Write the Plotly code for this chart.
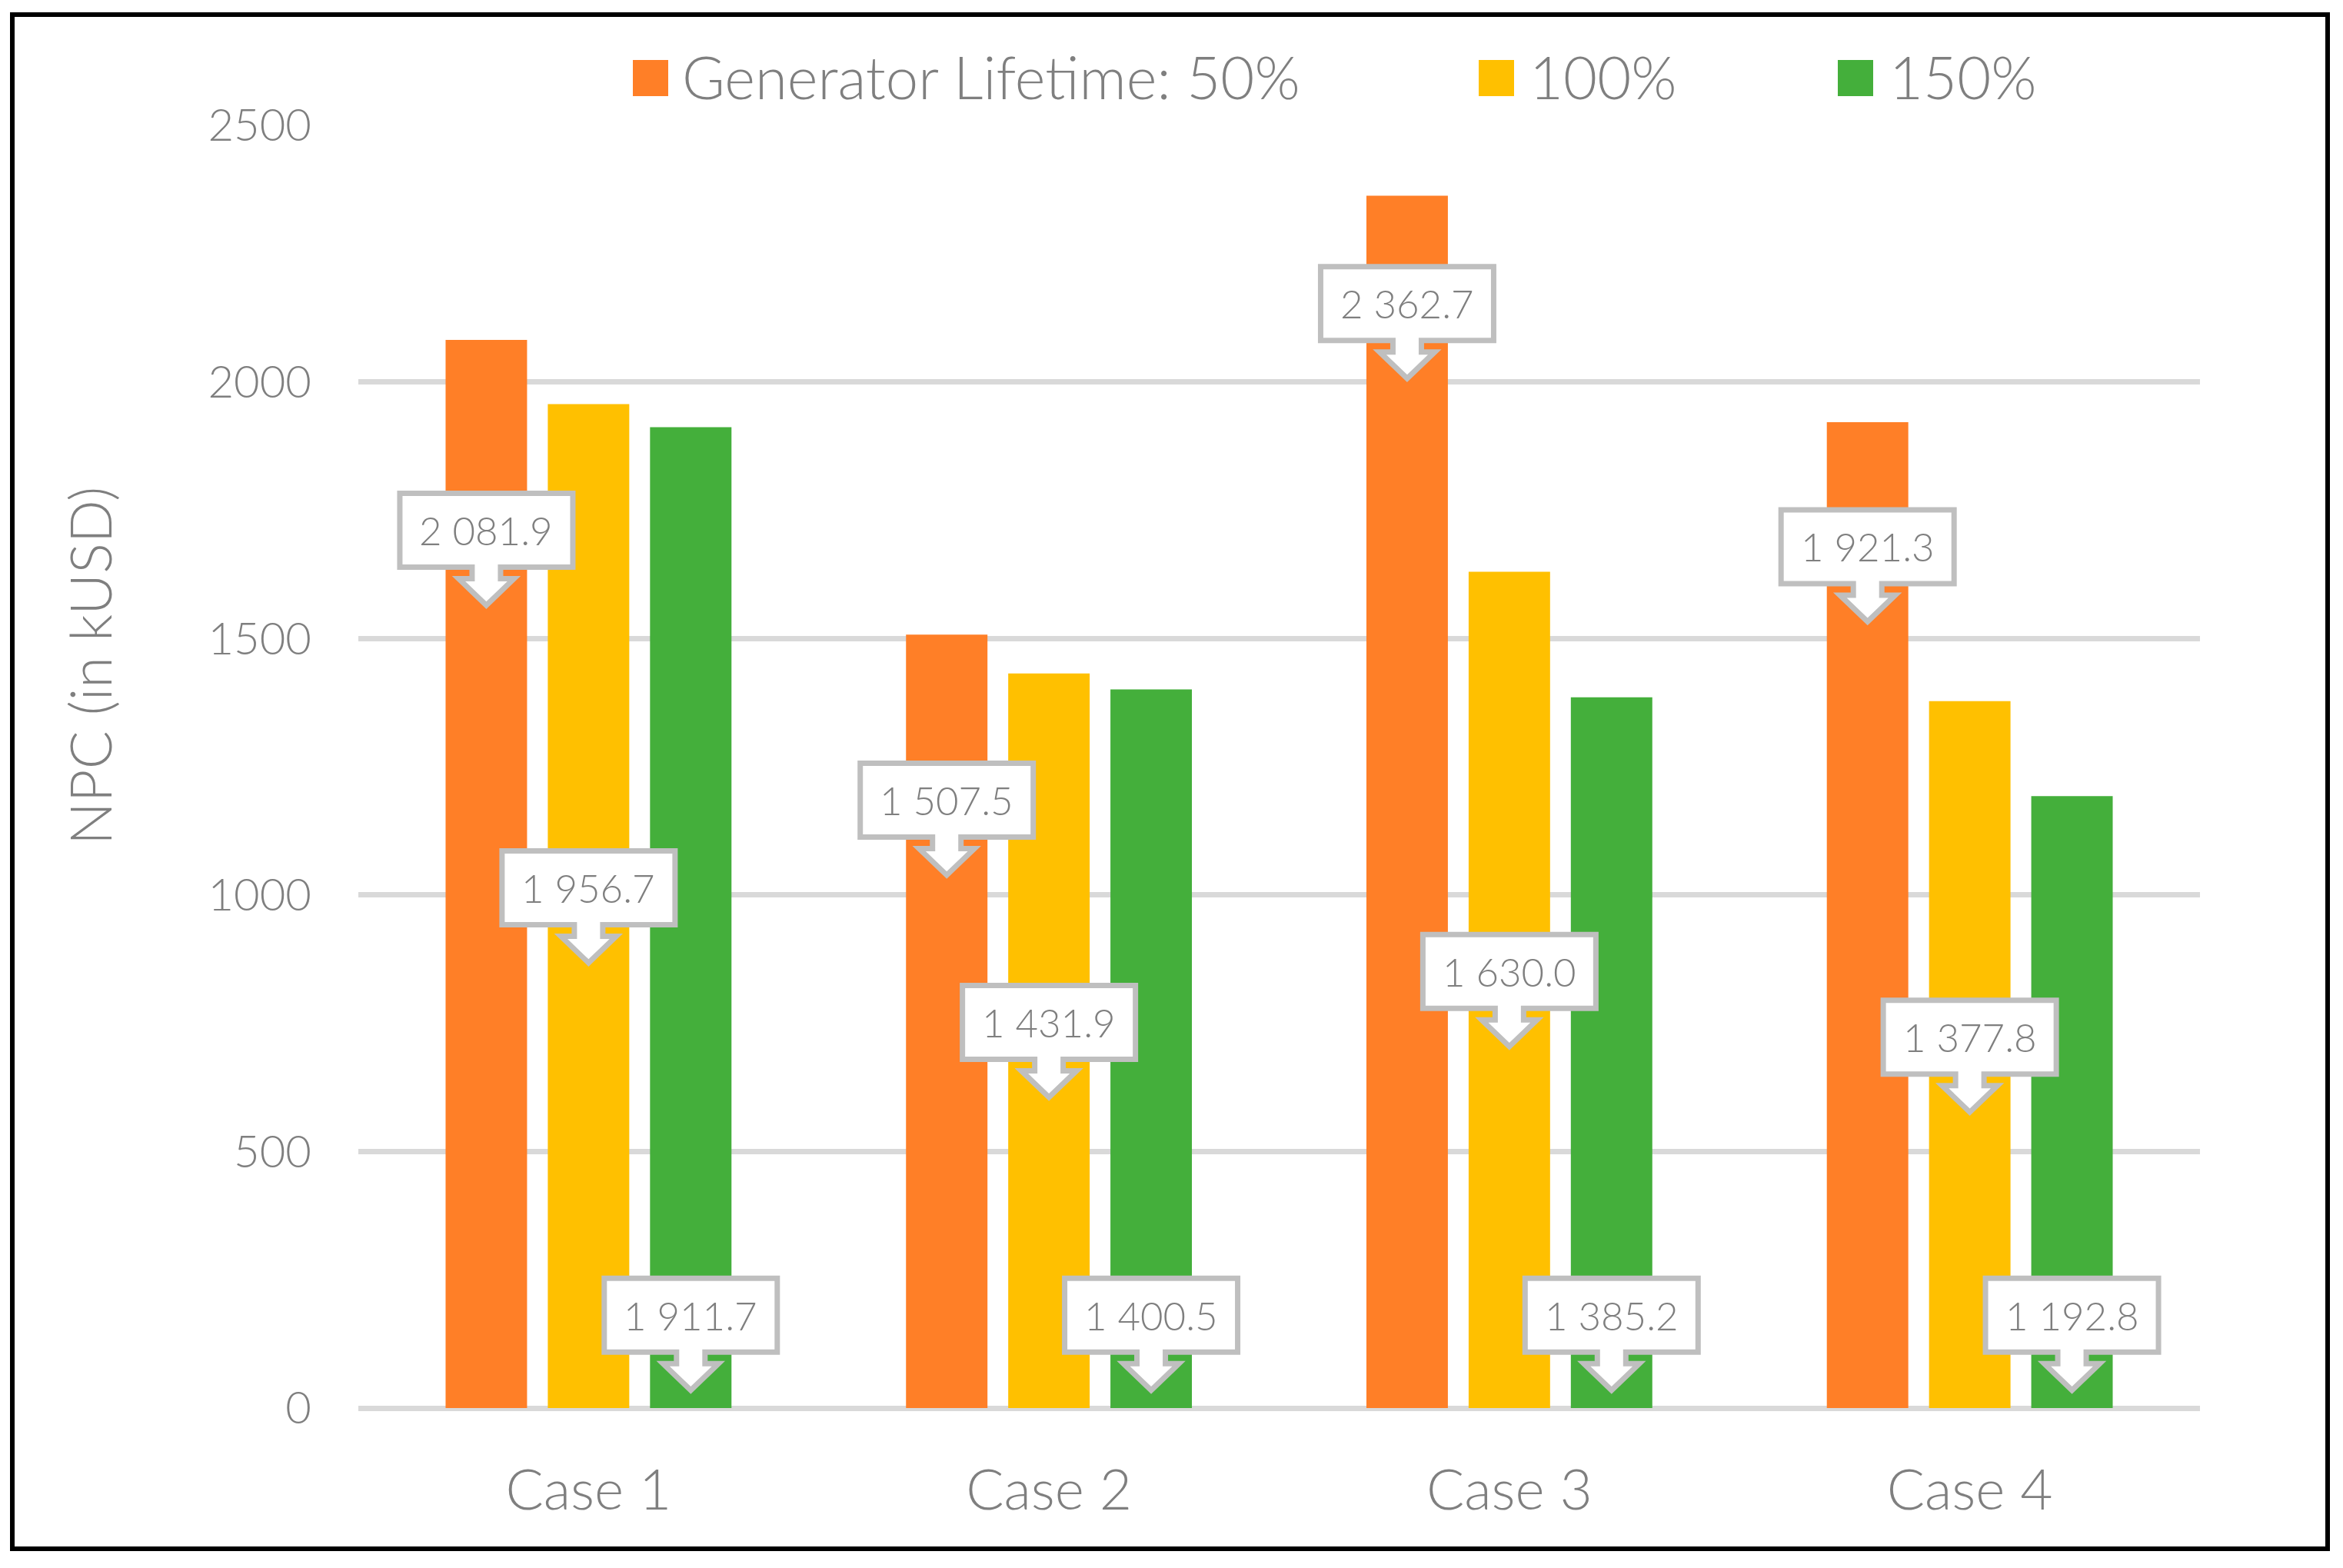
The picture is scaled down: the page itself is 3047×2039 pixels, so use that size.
import plotly.graph_objects as go

# ---------------- data ----------------
categories = ["Case 1", "Case 2", "Case 3", "Case 4"]
series_names = ["Generator Lifetime: 50%", "100%", "150%"]
lifetime_50 = [2081.9, 1507.5, 2362.7, 1921.3]
lifetime_100 = [1956.7, 1431.9, 1630.0, 1377.8]
lifetime_150 = [1911.7, 1400.5, 1385.2, 1192.8]
y_ticks = [0, 500, 1000, 1500, 2000, 2500]
y_title = "NPC (in kUSD)"

# ---------------- label placement (data units of the box top) ----------------
callout_top_50 = [1788, 1262, 2230, 1756]
callout_top_100 = [1091, 829, 928, 800]
callout_top_150 = [258, 258, 258, 258]

# ---------------- styles ----------------
colors = ["#FF7F27", "#FFC000", "#44AF3B"]
GRAY = "#7F7F7F"
BORDER = "#BFBFBF"
GRID = "#D9D9D9"
FONT = "Lato"
WEIGHT = 300

W, H = 3047, 2039
ML, MR, MT, MB = 466, 186, 163, 208
PW, PH = W - ML - MR, H - MT - MB
BARGAP = 0.334
GROUPGAP = 0.203


def px_x(px):
    return (px - ML) / PW


def px_y(py):
    return (H - MB - py) / PH


series = [lifetime_50, lifetime_100, lifetime_150]
tops = [callout_top_50, callout_top_100, callout_top_150]

fig = go.Figure()
for name, vals, col in zip(series_names, series, colors):
    fig.add_trace(go.Bar(x=categories, y=vals, name=name,
                         marker=dict(color=col, line=dict(width=0)),
                         showlegend=False))

# callouts: box + neck + arrow head, sized in pixels, anchored at the bar centre
callout_path = ("M -112.5,-3.5 L 112.5,-3.5 L 112.5,-99.5 L 18.5,-99.5 L 18.5,-114.5 "
                "L 36,-114.5 L 0,-149 L -36,-114.5 L -18.5,-114.5 L -18.5,-99.5 "
                "L -112.5,-99.5 Z")
slot = (1 - BARGAP) / 3
shapes = []
annotations = []
for si, (vals, tp) in enumerate(zip(series, tops)):
    off = (si - 1) * slot
    for ci, v in enumerate(vals):
        xa = ci + off
        shapes.append(dict(type="path", xref="x", yref="y",
                           xsizemode="pixel", ysizemode="pixel",
                           xanchor=xa, yanchor=tp[ci], path=callout_path,
                           fillcolor="white", line=dict(color=BORDER, width=7),
                           layer="above"))
        annotations.append(dict(x=xa, y=tp[ci], xref="x", yref="y",
                                yshift=-51.5, showarrow=False,
                                text=f"{v:,.1f}".replace(",", " "),
                                font=dict(family=FONT, size=51, color=GRAY, weight=WEIGHT),
                                xanchor="center", yanchor="middle"))

# manual legend
legend_marker_px = [823, 1923, 2390]
legend_text_px = [885, 1987, 2455]
for name, col, mx, tx in zip(series_names, colors, legend_marker_px, legend_text_px):
    shapes.append(dict(type="rect", xref="paper", yref="paper",
                       x0=px_x(mx), x1=px_x(mx + 46), y0=px_y(125), y1=px_y(78),
                       fillcolor=col, line=dict(width=0)))
    annotations.append(dict(x=px_x(tx), y=px_y(99), xref="paper", yref="paper",
                            text=name, showarrow=False, xanchor="left", yanchor="middle",
                            font=dict(family=FONT, size=76, color=GRAY, weight=WEIGHT)))

# y axis title
annotations.append(dict(x=px_x(116), y=px_y(866), xref="paper", yref="paper",
                        text=y_title, showarrow=False, textangle=-90,
                        xanchor="center", yanchor="middle",
                        font=dict(family=FONT, size=74, color=GRAY, weight=WEIGHT)))

# outer frame
shapes.append(dict(type="rect", xref="paper", yref="paper",
                   x0=px_x(16), x1=px_x(3027), y0=px_y(2014), y1=px_y(19),
                   line=dict(color="black", width=6), fillcolor="rgba(0,0,0,0)",
                   layer="above"))

fig.update_layout(
    width=W, height=H,
    margin=dict(l=ML, r=MR, t=MT, b=MB, pad=0),
    paper_bgcolor="white", plot_bgcolor="white",
    barmode="group", bargap=BARGAP, bargroupgap=GROUPGAP,
    shapes=shapes, annotations=annotations,
    font=dict(family=FONT, color=GRAY, weight=WEIGHT),
    xaxis=dict(showgrid=False, zeroline=False, showline=False, ticks="",
               tickfont=dict(family=FONT, size=73, color=GRAY, weight=WEIGHT),
               ticklabelstandoff=58),
    yaxis=dict(range=[0, 2500], tickvals=y_ticks, ticktext=[str(t) for t in y_ticks],
               showgrid=True, gridcolor=GRID, gridwidth=6.5,
               zeroline=True, zerolinecolor=GRID, zerolinewidth=6.5,
               showline=False, ticks="",
               tickfont=dict(family=FONT, size=58, color=GRAY, weight=WEIGHT),
               ticklabelstandoff=60),
)

fig.write_html("out.html", config={"displayModeBar": False},
               post_script="document.body.style.margin='0';document.body.style.overflow='hidden';")
